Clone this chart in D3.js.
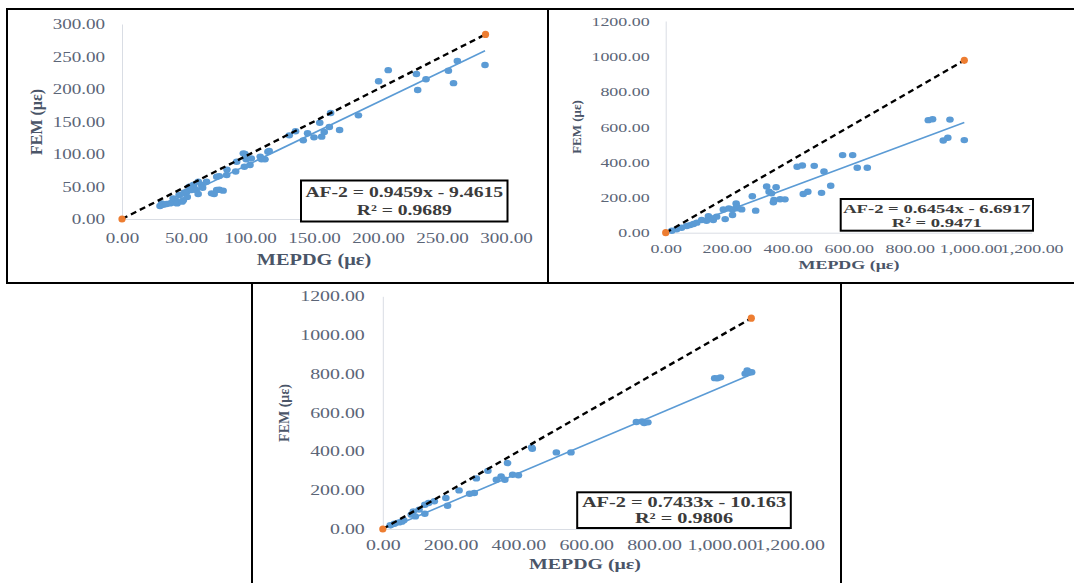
<!DOCTYPE html>
<html>
<head>
<meta charset="utf-8">
<title>AF-2 MEPDG vs FEM</title>
<style>
  body { margin: 0; background: #fff; }
  svg { font-family: "Liberation Serif", "Times New Roman", serif; display: block; }
  .axis path { stroke: #d9dde4; }
  .axis text { fill: #5b6577; }
  .title { fill: #4a5568; font-weight: bold; }
  .eq { fill: #3b3b3b; font-weight: bold; }
</style>
</head>
<body>
<div id="chart"></div>
<script src="https://d3js.org/d3.v7.min.js"></script>
<script>
// ---- data ----
var xTicksA = [0, 50, 100, 150, 200, 250, 300];
var yTicksA = [0, 50, 100, 150, 200, 250, 300];
var xTicksB = [0, 200, 400, 600, 800, 1000, 1200];
var yTicksB = [0, 200, 400, 600, 800, 1000, 1200];

var pointsA = [
  [29.7,20],[31,24],[32.3,22],[34.8,23],[37.5,24],[39,25],[40,31.8],[42.7,26.7],[43,24],
  [44.6,37],[47,26.7],[47.9,29],[48.5,40.5],[50.5,42],[51,34],[52.6,49.7],[54.4,44.6],
  [55.7,52.3],[56,50],[58,44.6],[59.5,38.5],[59.6,57.4],[62.2,52.3],[63,48],[66,57.4],
  [70,39.5],[72,38.5],[74,44.6],[76,45],[79,43.6],[74,65],[76,66],[81.8,67.7],[82,76],
  [88.8,73],[89.6,88],[94.8,101],[96,100],[95.6,80.5],[97,92],[100,83],[101,93],
  [108,96],[109,92],[111.7,91.8],[114,103.5],[115,104.6],[130.7,128.7],[135.6,135],
  [141.6,121],[145,132],[150,125.6],[154.5,148],[156,126.7],[158,134],[162,141.5],
  [163,163],[170,137],[184.7,159.5],[200.5,212],[208,229],[230,223],[231,198.5],
  [237.5,215],[255,228],[259,209],[262,243],[283.6,237]
];
var pointsB = [
  [20,11],[36,19],[52,28],[69,38],[80,43],[91,49],[102,57],[118,72],[134,68],[140,94],
  [151,81],[156,72],[167,91],[189,132],[195,77],[207,138],[219,100],[219,132],[231,166],
  [233,138],[233,147],[249,132],[284,207],[295,125],[331,262],[339,232],[347,223],
  [353,172],[355,185],[362,258],[375,190],[391,189],[431,374],[448,381],[451,219],
  [466,232],[487,379],[511,226],[519,347],[541,266],[580,440],[613,440],[628,368],
  [661,368],[861,638],[875,643],[910,523],[925,538],[932,641],[979,525]
];
var pointsC = [
  [22,19],[34,27],[48,34],[56,38],[62,45],[84,74],[90,91],[96,65],[107,100],[124,79],
  [124,125],[135,134],[152,143],[186,160],[191,120],[225,199],[256,182],[270,186],
  [276,261],[310,300],[335,254],[349,271],[360,254],[368,340],[383,280],[400,277],
  [439,421],[441,414],[512,395],[555,395],[748,552],[765,555],[771,546],[782,550],
  [979,778],[987,777],[996,782],[1069,801],[1075,818],[1080,808],[1088,808]
];

var identityA = [[0, 0], [284, 284]];
var identityB = [[0, 0], [979, 977]];
var identityC = [[0, 0], [1087, 1087]];

var slopes = [0.9459, 0.6454, 0.7433];
var intercepts = [-9.4615, -6.6917, -10.163];
var eqLabels = ["AF-2 = 0.9459x - 9.4615", "AF-2 = 0.6454x - 6.6917", "AF-2 = 0.7433x - 10.163"];
var r2Labels = ["R\u00b2 = 0.9689", "R\u00b2 = 0.9471", "R\u00b2 = 0.9806"];
var xTitle = "MEPDG (\u03bc\u03b5)";
var yTitle = "FEM (\u03bc\u03b5)";

// ---- layout (pixels) ----
var panels = [
  { pts: pointsA, id: identityA, xt: xTicksA, yt: yTicksA, xmax: 300, ymax: 300,
    xr: [122, 506], yr: [219, 24], fs: 15, sx: 1.27, xpad: 13, ypad: 17,
    tfs: 16, xTitlePos: [314, 260], yTitlePos: [37, 122],
    box: [301, 180.5, 206.5, 41], efs: 15, eqY: [192, 210], esx: 1.31 },
  { pts: pointsB, id: identityB, xt: xTicksB, yt: yTicksB, xmax: 1200, ymax: 1200,
    xr: [665.7, 1031.7], yr: [232.7, 21], fs: 13, sx: 1.38, xpad: 10.7, ypad: 16,
    tfs: 13, xTitlePos: [849, 265], yTitlePos: [577, 127],
    box: [840.7, 199, 192.3, 31.7], efs: 13.5, eqY: [208.3, 222.7], esx: 1.38 },
  { pts: pointsC, id: identityC, xt: xTicksB, yt: yTicksB, xmax: 1200, ymax: 1200,
    xr: [382.8, 789.6], yr: [529, 296.3], fs: 14, sx: 1.42, xpad: 11, ypad: 18,
    tfs: 14, xTitlePos: [585, 564.7], yTitlePos: [284.5, 413],
    box: [577.2, 492.3, 213.6, 35.7], efs: 14, eqY: [502.3, 518.7], esx: 1.45 }
];

var W = 1074, H = 583;
var svg = d3.select("#chart").append("svg").attr("width", W).attr("height", H);

// frames
var frame = svg.append("g").attr("fill", "none").attr("stroke", "#000").attr("stroke-width", 2);
frame.append("rect").attr("x", 7).attr("y", 9).attr("width", 541).attr("height", 274);
frame.append("line").attr("x1", 548).attr("x2", W).attr("y1", 9).attr("y2", 9);
frame.append("line").attr("x1", 548).attr("x2", W).attr("y1", 283).attr("y2", 283);
frame.append("line").attr("x1", 252).attr("x2", 841).attr("y1", 283).attr("y2", 283);
frame.append("line").attr("x1", 252).attr("x2", 252).attr("y1", 283).attr("y2", H);
frame.append("line").attr("x1", 841).attr("x2", 841).attr("y1", 283).attr("y2", H);

panels.forEach(function(p, i) {
  var g = svg.append("g");
  var x = d3.scaleLinear().domain([0, p.xmax]).range(p.xr);
  var y = d3.scaleLinear().domain([0, p.ymax]).range(p.yr);
  var xfmt = d3.format(",.2f"), yfmt = d3.format(".2f");

  var xa = g.append("g").attr("class", "axis")
    .attr("transform", "translate(0," + p.yr[0] + ")")
    .call(d3.axisBottom(x).tickValues(p.xt).tickFormat(xfmt).tickSize(0).tickPadding(p.xpad));
  xa.selectAll("text").attr("font-size", p.fs).attr("transform", "scale(" + p.sx + ",1)");
  xa.attr("font-family", null);

  var ya = g.append("g").attr("class", "axis")
    .attr("transform", "translate(" + p.xr[0] + ",0)")
    .call(d3.axisLeft(y).tickValues(p.yt).tickFormat(yfmt).tickSize(0).tickPadding(p.ypad / p.sx));
  ya.selectAll("text").attr("font-size", p.fs).attr("transform", "scale(" + p.sx + ",1)");
  ya.attr("font-family", null);

  // scatter points
  g.append("g").selectAll("ellipse").data(p.pts).enter().append("ellipse")
    .attr("cx", function(d) { return x(d[0]); })
    .attr("cy", function(d) { return y(d[1]); })
    .attr("rx", 3.8).attr("ry", 3.2)
    .attr("fill", "#5b9bd5");

  // linear trend line over data range
  var ext = d3.extent(p.pts, function(d) { return d[0]; });
  var trend = ext.map(function(v) { return [v, slopes[i] * v + intercepts[i]]; });
  var line = d3.line().x(function(d) { return x(d[0]); }).y(function(d) { return y(d[1]); });
  g.append("path").datum(trend).attr("d", line)
    .attr("fill", "none").attr("stroke", "#5b9bd5").attr("stroke-width", 1.6);

  // 1:1 line
  g.append("path").datum(p.id).attr("d", line)
    .attr("fill", "none").attr("stroke", "#000").attr("stroke-width", 2.4)
    .attr("stroke-dasharray", "6,4");
  g.append("g").selectAll("circle").data(p.id).enter().append("circle")
    .attr("cx", function(d) { return x(d[0]); })
    .attr("cy", function(d) { return y(d[1]); })
    .attr("r", 3.6).attr("fill", "#ed7d31");

  // axis titles
  g.append("text").attr("class", "title")
    .attr("transform", "translate(" + p.xTitlePos[0] + "," + (p.xTitlePos[1] + p.tfs * 0.34) + ") scale(" + p.sx + ",1)")
    .attr("text-anchor", "middle").attr("font-size", p.tfs).text(xTitle);
  g.append("text").attr("class", "title")
    .attr("transform", "translate(" + (p.yTitlePos[0] + p.tfs * 0.34) + "," + p.yTitlePos[1] + ") rotate(-90)")
    .attr("text-anchor", "middle").attr("font-size", p.tfs).text(yTitle);

  // equation box
  var b = p.box;
  g.append("rect").attr("x", b[0]).attr("y", b[1]).attr("width", b[2]).attr("height", b[3])
    .attr("fill", "#fff").attr("stroke", "#000").attr("stroke-width", 2);
  var cx = b[0] + b[2] / 2;
  [eqLabels[i], r2Labels[i]].forEach(function(t, k) {
    g.append("text").attr("class", "eq")
      .attr("transform", "translate(" + cx + "," + (p.eqY[k] + p.efs * 0.34) + ") scale(" + p.esx + ",1)")
      .attr("text-anchor", "middle").attr("font-size", p.efs).text(t);
  });
});
</script>
</body>
</html>
